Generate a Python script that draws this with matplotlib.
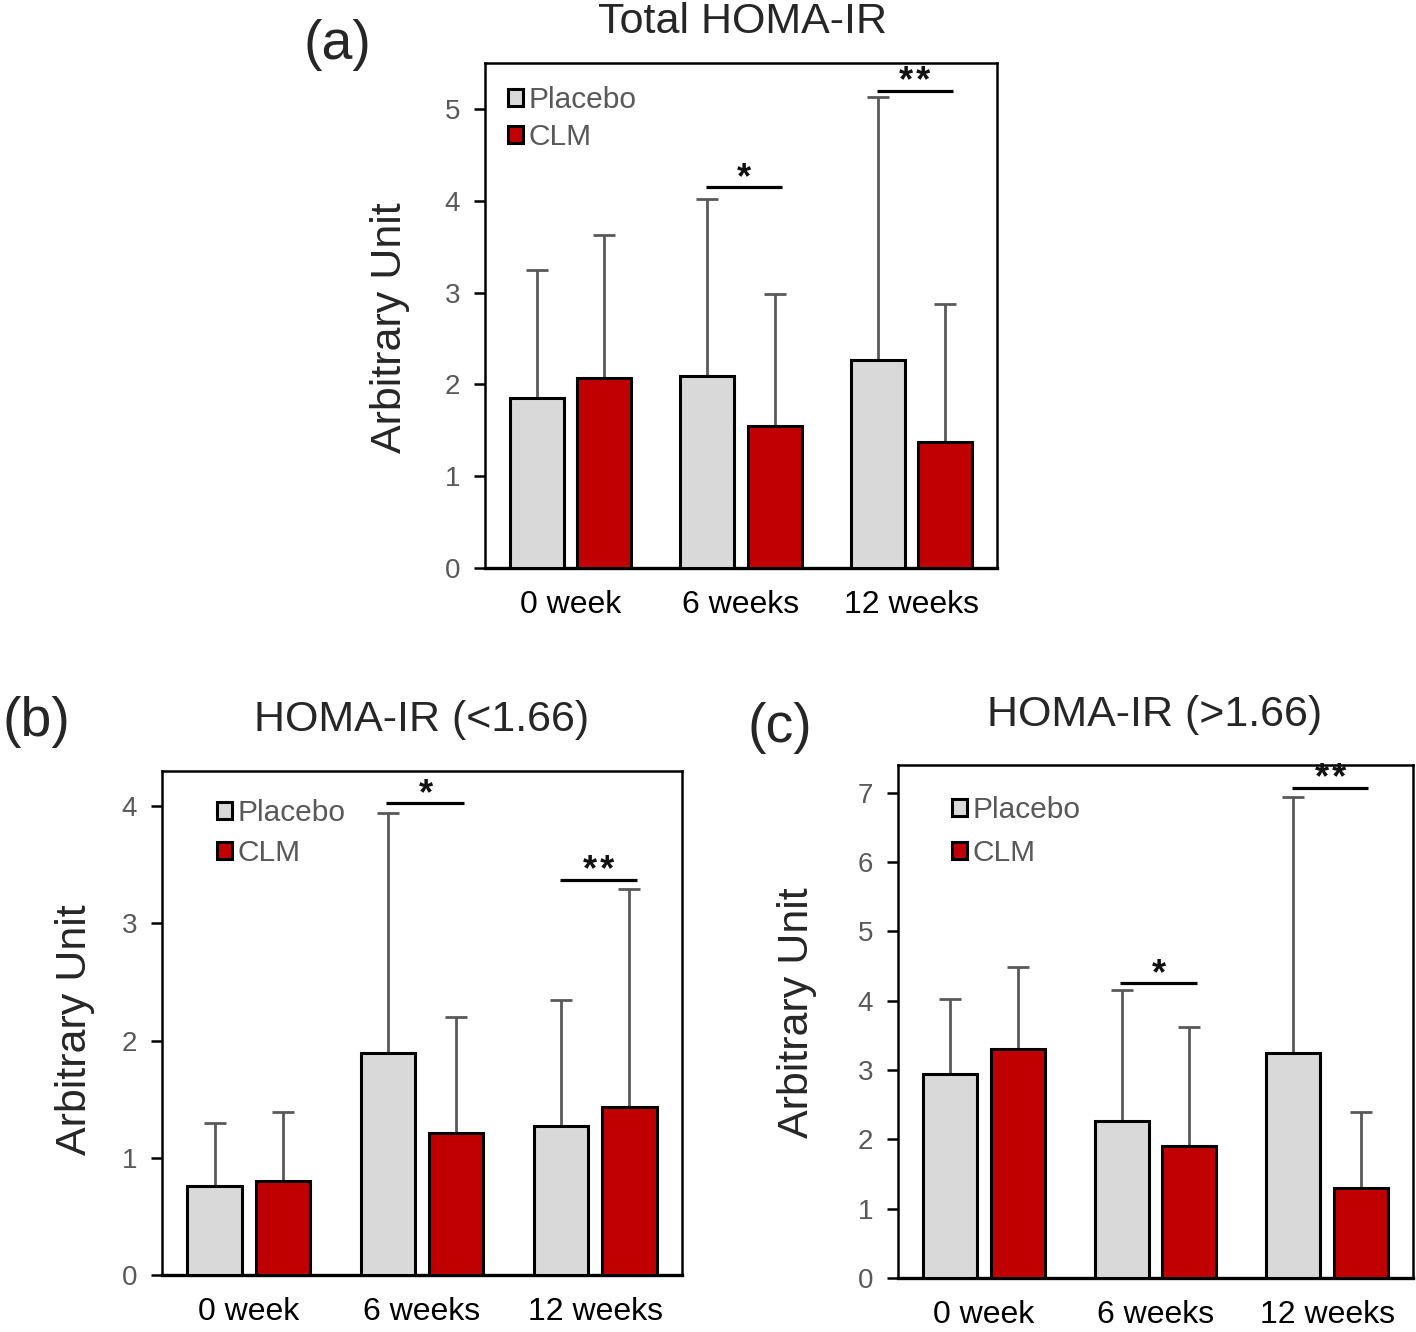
import numpy as np
import matplotlib
matplotlib.use("Agg")
import matplotlib.pyplot as plt
from matplotlib.patches import Patch

plt.rcParams['font.family'] = ['Liberation Sans', 'DejaVu Sans']

groups = ['0 week', '6 weeks', '12 weeks']

# (a) Total HOMA-IR
a_placebo = [1.85, 2.09, 2.26]
a_placebo_sd = [1.40, 1.93, 2.87]
a_clm = [2.07, 1.55, 1.37]
a_clm_sd = [1.56, 1.43, 1.50]
a_sig = [(1, 4.15, '*'), (2, 5.20, '**')]

# (b) HOMA-IR (<1.66)
b_placebo = [0.76, 1.89, 1.27]
b_placebo_sd = [0.54, 2.05, 1.08]
b_clm = [0.80, 1.21, 1.43]
b_clm_sd = [0.59, 0.99, 1.86]
b_sig = [(1, 4.03, '*'), (2, 3.37, '**')]

# (c) HOMA-IR (>1.66)
c_placebo = [2.94, 2.26, 3.24]
c_placebo_sd = [1.08, 1.89, 3.70]
c_clm = [3.31, 1.90, 1.30]
c_clm_sd = [1.18, 1.72, 1.09]
c_sig = [(1, 4.26, '*'), (2, 7.07, '**')]

PLACEBO = '#d9d9d9'
CLM = '#c00000'
GRAY = '#595959'
TXT = '#262626'

W, H = 1416, 1332
fig = plt.figure(figsize=(W / 100, H / 100), dpi=100)


def px_axes(l, t, r, b):
    return fig.add_axes([l / W, 1 - b / H, (r - l) / W, (b - t) / H])


def panel(ax, plac, plac_sd, clm, clm_sd, sig, ymax, yticks, leg_anchor, leg_sp):
    x = np.arange(len(groups))
    w, off = 0.315, 0.197
    ax.bar(x - off, plac, w, color=PLACEBO, edgecolor='black', linewidth=2.2,
           zorder=3, label='Placebo')
    ax.bar(x + off, clm, w, color=CLM, edgecolor='black', linewidth=2.2,
           zorder=3, label='CLM')
    for xs, m, sd in ((x - off, plac, plac_sd), (x + off, clm, clm_sd)):
        ax.errorbar(xs, m, yerr=[np.zeros(len(m)), sd], fmt='none',
                    ecolor=GRAY, elinewidth=2, capsize=8, capthick=2, zorder=2)
    for i, y, s in sig:
        ax.plot([i - 0.205, i + 0.24], [y, y], color='black', lw=2.3,
                solid_capstyle='butt', zorder=4)
        ax.annotate('\u200a'.join(s), (i + 0.02, y), xytext=(0, 6),
                    textcoords='offset points', ha='center', va='center',
                    fontsize=26, fontweight='bold', color='#111111')
    ax.set_xlim(-0.5, 2.5)
    ax.set_ylim(0, ymax)
    ax.set_yticks(yticks)
    ax.set_xticks(x)
    ax.set_xticklabels(groups, fontsize=23, color='black')
    ax.tick_params(axis='x', length=0, pad=16)
    ax.tick_params(axis='y', length=8, width=1.8, labelsize=20,
                   labelcolor=GRAY, pad=10)
    for sp in ax.spines.values():
        sp.set_linewidth(1.8)
        sp.set_color('black')
    ax.spines['bottom'].set_linewidth(2.4)
    handles = [Patch(facecolor=PLACEBO, edgecolor='black', linewidth=2.2),
               Patch(facecolor=CLM, edgecolor='black', linewidth=2.2)]
    ax.legend(handles, ['Placebo', 'CLM'], loc='upper left',
              bbox_to_anchor=leg_anchor, frameon=False, fontsize=21.5,
              labelcolor=GRAY, handlelength=0.5, handleheight=0.5,
              handletextpad=0.2, labelspacing=leg_sp, borderpad=0,
              borderaxespad=0)


ax_a = px_axes(485, 63, 997, 568)
panel(ax_a, a_placebo, a_placebo_sd, a_clm, a_clm_sd, a_sig, 5.5,
      [0, 1, 2, 3, 4, 5], (0.045, 0.955), 0.32)
ax_b = px_axes(162, 771, 682, 1275)
panel(ax_b, b_placebo, b_placebo_sd, b_clm, b_clm_sd, b_sig, 4.3,
      [0, 1, 2, 3, 4], (0.105, 0.945), 0.42)
ax_c = px_axes(898, 765, 1413, 1278)
panel(ax_c, c_placebo, c_placebo_sd, c_clm, c_clm_sd, c_sig, 7.4,
      [0, 1, 2, 3, 4, 5, 6, 7], (0.105, 0.94), 0.5)

# titles, panel letters and y labels
fig.text(742 / W, 1 - 22 / H, 'Total HOMA-IR', ha='center', va='center',
         fontsize=31, color=TXT)
fig.text(337 / W, 1 - 45 / H, '(a)', ha='center', va='center',
         fontsize=40, color=TXT)
fig.text(422 / W, 1 - 720 / H, 'HOMA-IR (<1.66)', ha='center', va='center',
         fontsize=31, color=TXT)
fig.text(36 / W, 1 - 722 / H, '(b)', ha='center', va='center',
         fontsize=40, color=TXT)
fig.text(1155 / W, 1 - 715 / H, 'HOMA-IR (>1.66)', ha='center', va='center',
         fontsize=31, color=TXT)
fig.text(780 / W, 1 - 728 / H, '(c)', ha='center', va='center',
         fontsize=40, color=TXT)

for xc, yc in ((390, 328), (75, 1030), (797, 1013)):
    fig.text(xc / W, 1 - yc / H, 'Arbitrary Unit', ha='center', va='center',
             rotation=90, fontsize=31, color=TXT)

fig.savefig('out.png', dpi=100)
